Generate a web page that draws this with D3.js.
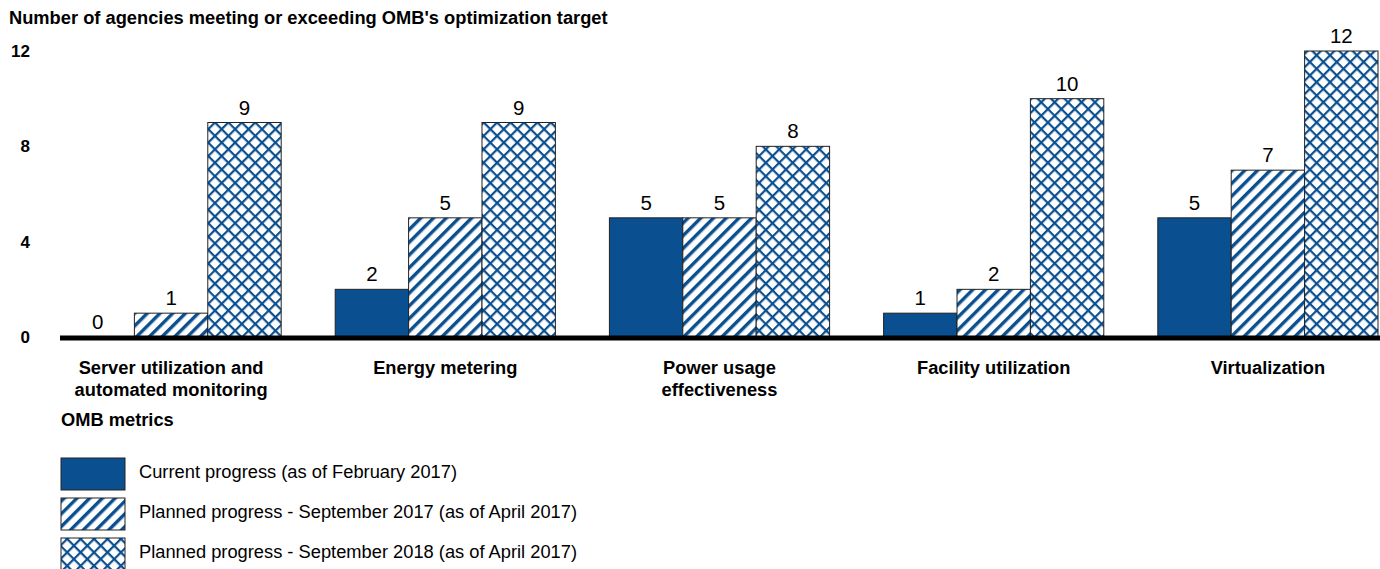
<!DOCTYPE html>
<html>
<head>
<meta charset="utf-8">
<script src="https://cdn.jsdelivr.net/npm/d3@7"></script>
<style>
  body { margin: 0; background: #fff; }
  text { font-family: Arial, "Liberation Sans", sans-serif; fill: #000; }
</style>
</head>
<body>
<svg width="1380" height="569"></svg>
<script>
// data
var categories = [
  ["Server utilization and", "automated monitoring"],
  ["Energy metering"],
  ["Power usage", "effectiveness"],
  ["Facility utilization"],
  ["Virtualization"]
];
var seriesNames = [
  "Current progress (as of February 2017)",
  "Planned progress - September 2017 (as of April 2017)",
  "Planned progress - September 2018 (as of April 2017)"
];
var currentVals = [0, 2, 5, 1, 5];
var sep2017Vals = [1, 5, 5, 2, 7];
var sep2018Vals = [9, 9, 8, 10, 12];
var yTicks = [0, 4, 8, 12];

var series = [currentVals, sep2017Vals, sep2018Vals];

// main svg def
var svg = d3.select("svg"),
    width = +svg.attr("width"),
    height = +svg.attr("height");
var blue = "#0a4f90";

// patterns
var defs = svg.append("defs");
var diag = defs.append("pattern")
    .attr("id", "diag")
    .attr("patternUnits", "userSpaceOnUse")
    .attr("width", 9).attr("height", 9)
    .attr("patternTransform", "rotate(45)");
diag.append("rect").attr("width", 9).attr("height", 9).attr("fill", "#fff");
diag.append("rect").attr("x", 0).attr("width", 3.4).attr("height", 9).attr("fill", blue);

var cross = defs.append("pattern")
    .attr("id", "cross")
    .attr("patternUnits", "userSpaceOnUse")
    .attr("width", 9.5).attr("height", 9.5)
    .attr("patternTransform", "rotate(45)");
cross.append("rect").attr("width", 9.5).attr("height", 9.5).attr("fill", "#fff");
cross.append("rect").attr("width", 2.2).attr("height", 9.5).attr("fill", blue);
cross.append("rect").attr("width", 9.5).attr("height", 2.2).attr("fill", blue);

var fills = [blue, "url(#diag)", "url(#cross)"];

// scales
var x0 = d3.scaleBand()
    .domain(d3.range(categories.length))
    .range([61, 1378])
    .paddingInner(0.197)
    .paddingOuter(0);
var x1 = d3.scaleBand()
    .domain(d3.range(series.length))
    .range([0, x0.bandwidth()]);
var y = d3.scaleLinear()
    .domain([0, 12])
    .range([337, 51]);

// title
svg.append("text")
    .attr("x", 9).attr("y", 24)
    .style("font-weight", "bold").style("font-size", "18.3px")
    .text("Number of agencies meeting or exceeding OMB's optimization target");

// y axis labels
svg.append("g").selectAll("text")
    .data(yTicks)
  .enter().append("text")
    .attr("x", 30)
    .attr("y", function(d) { return y(d) + 6; })
    .attr("text-anchor", "end")
    .style("font-weight", "bold").style("font-size", "17px")
    .text(function(d) { return d; });

// bars
var g = svg.append("g");
series.forEach(function(vals, s) {
  g.selectAll(".bar" + s)
      .data(vals)
    .enter().append("rect")
      .attr("x", function(d, i) { return x0(i) + x1(s); })
      .attr("y", function(d) { return y(d); })
      .attr("width", x1.bandwidth())
      .attr("height", function(d) { return y(0) - y(d); })
      .attr("fill", fills[s])
      .attr("stroke", "#222")
      .attr("stroke-width", 1);
  g.selectAll(".lbl" + s)
      .data(vals)
    .enter().append("text")
      .attr("x", function(d, i) { return x0(i) + x1(s) + x1.bandwidth() / 2; })
      .attr("y", function(d) { return y(d) - 8; })
      .attr("text-anchor", "middle")
      .style("font-size", "20.5px")
      .text(function(d) { return d; });
});

// baseline
svg.append("line")
    .attr("x1", 60).attr("x2", 1380)
    .attr("y1", y(0) + 1).attr("y2", y(0) + 1)
    .attr("stroke", "#000").attr("stroke-width", 5);

// category labels
var cat = svg.append("g").selectAll("text")
    .data(categories)
  .enter().append("text")
    .attr("x", function(d, i) { return x0(i) + x0.bandwidth() / 2; })
    .attr("y", 374)
    .attr("text-anchor", "middle")
    .style("font-weight", "bold").style("font-size", "18.3px");
cat.selectAll("tspan")
    .data(function(d) { return d; })
  .enter().append("tspan")
    .attr("x", function() { return d3.select(this.parentNode).attr("x"); })
    .attr("dy", function(d, i) { return i ? 22 : 0; })
    .text(function(d) { return d; });

svg.append("text")
    .attr("x", 61).attr("y", 426)
    .style("font-weight", "bold").style("font-size", "18.3px")
    .text("OMB metrics");

// legend
var legend = svg.append("g");
seriesNames.forEach(function(name, i) {
  legend.append("rect")
    .attr("x", 61).attr("y", 458 + i * 40)
    .attr("width", 64).attr("height", 32)
    .attr("fill", fills[i])
    .attr("stroke", "#222").attr("stroke-width", 1);
  legend.append("text")
    .attr("x", 139).attr("y", 478 + i * 40)
    .style("font-size", "18.3px")
    .text(name);
});
</script>
</body>
</html>
